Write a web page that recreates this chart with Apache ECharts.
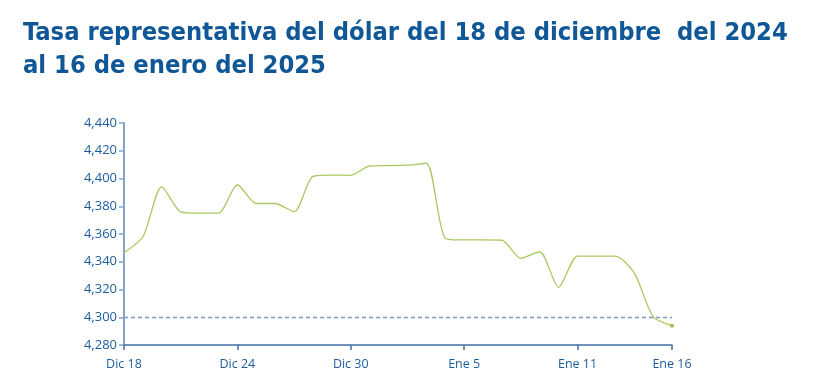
<!DOCTYPE html>
<html>
<head>
<meta charset="utf-8">
<script src="https://cdn.jsdelivr.net/npm/echarts@6/dist/echarts.min.js"></script>
<style>
  html, body { margin: 0; padding: 0; background: #ffffff; }
  #chart { width: 813px; height: 392px; }
</style>
</head>
<body>
<div id="chart"></div>
<script>
const titleLines = [
  'Tasa representativa del dólar del 18 de diciembre  del 2024',
  'al 16 de enero del 2025'
];
const categories = [
  'Dic 18','Dic 19','Dic 20','Dic 21','Dic 22','Dic 23','Dic 24','Dic 25','Dic 26','Dic 27',
  'Dic 28','Dic 29','Dic 30','Dic 31','Ene 1','Ene 2','Ene 3','Ene 4','Ene 5','Ene 6',
  'Ene 7','Ene 8','Ene 9','Ene 10','Ene 11','Ene 12','Ene 13','Ene 14','Ene 15','Ene 16'
];
const rates = [
  4346.5, 4358.0, 4394.0, 4376.0, 4375.0, 4375.0, 4395.5, 4382.0, 4382.0, 4376.0,
  4401.5, 4402.5, 4402.3, 4409.0, 4409.3, 4409.6, 4411.0, 4357.0, 4355.7, 4355.7,
  4355.5, 4342.5, 4347.2, 4321.6, 4344.1, 4344.0, 4344.0, 4332.0, 4300.4, 4293.9
];
const labeledIdx = [0, 6, 12, 18, 24, 29];
const referenceLevel = 4300;
const yMin = 4280, yMax = 4440, yStep = 20;

const chart = echarts.init(document.getElementById('chart'), null, { renderer: 'canvas' });

const seriesData = rates.map((v, i) => i === rates.length - 1
  ? { value: v, symbol: 'circle', symbolSize: 4 }
  : { value: v });

chart.setOption({
  animation: false,
  backgroundColor: '#ffffff',
  title: {
    text: titleLines.join('\n'),
    left: 23,
    top: 17,
    padding: 0,
    textStyle: {
      fontFamily: 'DejaVu Sans Condensed',
      fontWeight: 'bold',
      fontSize: 25.3,
      lineHeight: 33,
      color: '#0f5797'
    }
  },
  grid: { left: 124, right: 141, top: 123, bottom: 47, containLabel: false },
  xAxis: {
    type: 'category',
    data: categories,
    boundaryGap: false,
    axisLine: { show: true, lineStyle: { color: '#3f6fa8', width: 1.5 } },
    axisTick: {
      show: true,
      length: 5,
      interval: (i) => labeledIdx.includes(i),
      lineStyle: { color: '#3f6fa8', width: 1.5 }
    },
    axisLabel: {
      interval: (i) => labeledIdx.includes(i),
      color: '#1d5c9c',
      fontFamily: 'Open Sans',
      fontSize: 12.5,
      margin: 13
    },
    splitLine: { show: false }
  },
  yAxis: {
    type: 'value',
    min: yMin,
    max: yMax,
    interval: yStep,
    axisLine: { show: true, lineStyle: { color: '#86a3cb', width: 2 } },
    axisTick: { show: true, length: 5, lineStyle: { color: '#86a3cb', width: 1.5 } },
    axisLabel: {
      color: '#1d5c9c',
      fontFamily: 'Open Sans',
      fontSize: 13,
      margin: 7,
      formatter: (v) => v.toLocaleString('en-US')
    },
    splitLine: { show: false }
  },
  series: [{
    type: 'line',
    data: seriesData,
    symbol: 'none',
    showSymbol: true,
    smooth: 0.25,
    lineStyle: { color: '#a9c962', width: 1.3 },
    itemStyle: { color: '#9cc04a' },
    markLine: {
      silent: true,
      symbol: 'none',
      label: { show: false },
      lineStyle: { color: '#7b98c0', type: [4, 3], width: 1.3 },
      data: [{ yAxis: referenceLevel }]
    }
  }]
});
</script>
</body>
</html>
